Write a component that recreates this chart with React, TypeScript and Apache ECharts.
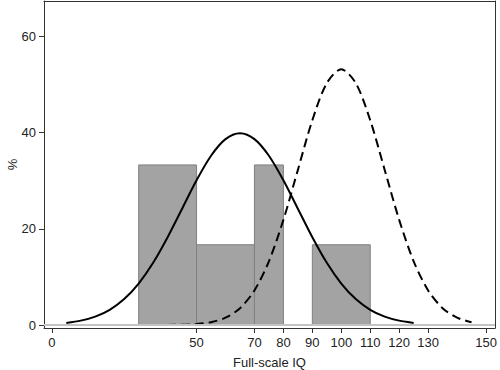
import React, { useEffect, useRef } from "react";
import * as echarts from "echarts";

// Histogram bins: [start, end, percent]
const binStarts = [30, 50, 70, 90];
const binEnds = [50, 70, 80, 110];
const binPercents = [33.3, 16.7, 33.3, 16.7];

// Solid curve (sample distribution)
const solidX = [5, 10, 15, 20, 25, 30, 35, 40, 45, 50, 55, 60, 65, 70, 75, 80, 85, 90, 95, 100, 105, 110, 115, 120, 125];
const solidY = [0.44, 0.91, 1.75, 3.17, 5.4, 8.63, 12.95, 18.27, 24.2, 30.11, 35.21, 38.67, 39.89, 38.67, 35.21, 30.11, 24.2, 18.27, 12.95, 8.63, 5.4, 3.17, 1.75, 0.91, 0.44];

// Dashed curve (reference population)
const dashX = [30, 35, 40, 45, 50, 55, 60, 65, 70, 75, 80, 85, 90, 95, 100, 105, 110, 115, 120, 125, 130, 135, 140, 145];
const dashY = [0.0, 0.0, 0.02, 0.06, 0.21, 0.59, 1.52, 3.5, 7.2, 13.26, 21.87, 32.26, 42.59, 50.32, 53.19, 50.32, 42.59, 32.26, 21.87, 13.26, 7.2, 3.5, 1.52, 0.59];

const xTicks = [0, 50, 70, 80, 90, 100, 110, 120, 130, 150];
const yTicks = [0, 20, 40, 60];

const FONT = "Liberation Sans";

export default function App() {
  const ref = useRef<HTMLDivElement>(null);
  useEffect(() => {
    if (!ref.current) return;
    const chart = echarts.init(ref.current, undefined, { renderer: "svg" });
    const bins = binStarts.map((s, i) => [s, binEnds[i], binPercents[i]]);
    const frameAxis = {
      type: "value",
      axisLine: { show: true, onZero: false, lineStyle: { color: "#333", width: 1 } },
      axisTick: { show: false },
      axisLabel: { show: false },
      splitLine: { show: false },
    };
    chart.setOption({
      animation: false,
      backgroundColor: "#fff",
      grid: {
        left: 44,
        right: 5,
        top: 1,
        bottom: 42,
        outerBoundsMode: "none",
        containLabel: false,
      },
      xAxis: [
        {
          type: "value",
          min: -2.7,
          max: 153.1,
          name: "Full-scale IQ",
          nameLocation: "middle",
          nameGap: 28,
          nameMoveOverlap: false,
          nameTextStyle: { fontFamily: FONT, fontSize: 13, color: "#222" },
          splitLine: { show: false },
          axisLine: { show: true, onZero: false, lineStyle: { color: "#333", width: 1 } },
          axisTick: { show: true, customValues: xTicks, length: 5, lineStyle: { color: "#333" } },
          axisLabel: { customValues: xTicks, margin: 8, fontFamily: FONT, fontSize: 13, color: "#222" },
        },
        { ...frameAxis, position: "top", min: -2.7, max: 153.1 },
      ],
      yAxis: [
        {
          type: "value",
          min: -0.62,
          max: 67.4,
          name: "%",
          nameLocation: "middle",
          nameGap: 25,
          nameMoveOverlap: false,
          nameTextStyle: { fontFamily: FONT, fontSize: 13, color: "#222" },
          splitLine: { show: false },
          axisLine: { show: true, onZero: false, lineStyle: { color: "#333", width: 1 } },
          axisTick: { show: true, customValues: yTicks, length: 5, lineStyle: { color: "#333" } },
          axisLabel: { customValues: yTicks, margin: 8, fontFamily: FONT, fontSize: 13, color: "#222" },
        },
        { ...frameAxis, position: "right", min: -0.62, max: 67.4 },
      ],
      series: [
        {
          type: "custom",
          data: bins,
          renderItem: (params: any, api: any) => {
            const p0 = api.coord([api.value(0), api.value(2)]);
            const p1 = api.coord([api.value(1), 0]);
            return {
              type: "rect",
              shape: { x: p0[0], y: p0[1], width: p1[0] - p0[0], height: p1[1] - p0[1] },
              style: { fill: "#a3a3a3", stroke: "#808080", lineWidth: 1 },
            };
          },
          markLine: {
            silent: true,
            symbol: "none",
            label: { show: false },
            lineStyle: { color: "#c4c4c4", width: 2, type: "solid" },
            data: [{ yAxis: 0 }],
          },
          z: 1,
        },
        {
          type: "line",
          data: solidX.map((x, i) => [x, solidY[i]]),
          smooth: 0.3,
          showSymbol: false,
          lineStyle: { color: "#000", width: 2 },
          z: 3,
        },
        {
          type: "line",
          data: dashX.map((x, i) => [x, dashY[i]]),
          smooth: 0.3,
          showSymbol: false,
          lineStyle: { color: "#000", width: 2, type: [9, 5] },
          z: 3,
        },
      ],
    });
    return () => chart.dispose();
  }, []);
  return <div ref={ref} style={{ width: 500, height: 370, position: "absolute", left: 0, top: 0 }} />;
}
